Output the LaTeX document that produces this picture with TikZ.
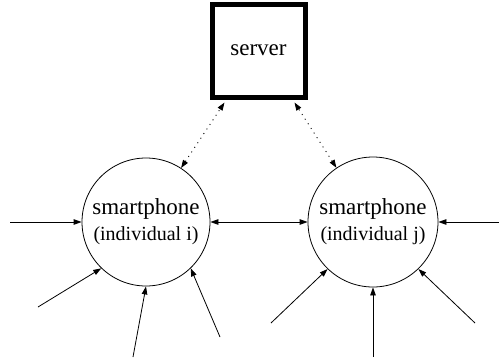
\documentclass[tikz,border=0pt]{standalone}
\usepackage{fontspec}
\setmainfont{Liberation Serif}
\usetikzlibrary{arrows.meta,calc}
\begin{document}
\begin{tikzpicture}[x=1pt,y=1pt,
  arr/.style={-{Triangle[length=8pt,width=5.5pt]},line width=0.8pt},
  dbl/.style={{Triangle[length=8pt,width=5.5pt]}-{Triangle[length=8pt,width=5.5pt]},line width=0.8pt},
  dotarr/.style={{Triangle[length=8pt,width=5.5pt]}-{Triangle[length=8pt,width=5.5pt]},line width=0.9pt,dash pattern=on 1pt off 4.5pt},
  phone/.style={circle,draw,line width=0.8pt,minimum size=128pt,inner sep=0pt,align=center,font=\fontsize{20}{26}\selectfont},
  srv/.style={rectangle,draw,line width=5pt,minimum size=93pt,inner sep=0pt,font=\fontsize{23}{26}\selectfont}]
\useasboundingbox (0,0) rectangle (499,-362);
\node[srv] (server) at (258.5,-50.5) {server};
\node[phone] (ci) at (146,-222) {{\fontsize{23}{26}\selectfont smartphone}\\(individual i)};
\node[phone,minimum size=130pt] (cj) at (373,-222) {{\fontsize{23}{26}\selectfont smartphone}\\(individual j)};
\coordinate (l0) at (10,-222);
\coordinate (r0) at (499,-222);
\coordinate (a1) at (38,-307);
\coordinate (a2) at (133,-357);
\coordinate (a3) at (220,-337);
\coordinate (b1) at (271,-323);
\coordinate (b2) at (373,-357);
\coordinate (b3) at (475,-323);
\coordinate (s1) at ($(server.south)+(-34,-3)$);
\coordinate (s2) at ($(server.south)+(36,-3)$);
\draw[arr] (l0) -- (ci.west);
\draw[arr] (r0) -- (cj.east);
\draw[dbl] (ci.east) -- (cj.west);
\draw[arr] (a1) -- (ci.226);
\draw[arr] (a2) -- (ci.270);
\draw[arr] (a3) -- (ci.314);
\draw[arr] (b1) -- (cj.226);
\draw[arr] (b2) -- (cj.270);
\draw[arr] (b3) -- (cj.314);
\draw[dotarr] (ci.57) -- (s1);
\draw[dotarr] (cj.124) -- (s2);
\end{tikzpicture}
\end{document}
